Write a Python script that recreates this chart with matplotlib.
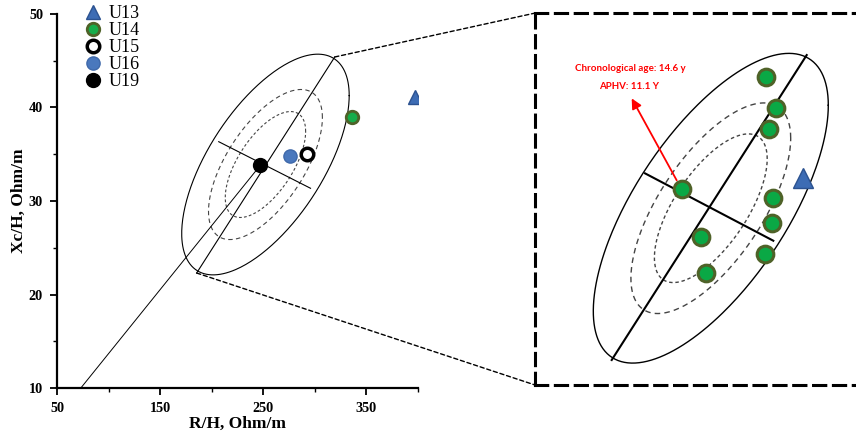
import matplotlib
matplotlib.use('Agg')
import matplotlib.pyplot as plt
from matplotlib.patches import ConnectionPatch
from matplotlib.ticker import MultipleLocator
import numpy as np

plt.rcParams['font.family'] = ['Liberation Serif', 'DejaVu Serif']

# --- left panel: RXc graph, group means ---
groups = ['U13', 'U14', 'U15', 'U16', 'U19']
rh_mean = [397, 336, 292, 276, 247]
xch_mean = [41.1, 39.0, 35.0, 34.85, 33.8]

# tolerance ellipse of the reference group
ell_center = (252.1, 33.9)
ell_sd = (81.2, 11.8)          # half extents along R/H and Xc/H
ell_rho = 0.625
ell_levels = [1.0, 0.68, 0.48]  # 95 %, 75 %, 50 %
major_r = [185.4, 319.3]
major_x = [22.3, 45.4]
minor_r = [206.8, 295.8]
minor_x = [36.34, 31.36]

# --- right panel: zoomed schematic, panel units ---
zoom_center = (175.8, 176.8)
zoom_sd = (117.5, 154.9)
zoom_rho = 0.665
zoom_major_u = [76.7, 271.7]
zoom_major_v = [25.0, 330.0]
zoom_minor_u = [110.0, 238.3]
zoom_minor_v = [211.7, 144.3]
zoom_u = [231, 240.7, 234.3, 146.7, 238.3, 236.7, 165.7, 230, 171]
zoom_v = [308.3, 276.7, 256, 195.7, 187.3, 162.3, 148.3, 131, 111.7]
tri_u, tri_v = 267.7, 206.7
note_lines = ['Chronological age: 14.6 y', 'APHV: 11.1 Y']


def ellipse_xy(c, sd, rho, s, n=300):
    t = np.linspace(0, 2 * np.pi, n)
    x = c[0] + s * sd[0] * np.cos(t)
    y = c[1] + s * sd[1] * (rho * np.cos(t) + np.sqrt(1 - rho ** 2) * np.sin(t))
    return x, y


def draw_ellipses(ax, c, sd, rho, lw_ell):
    styles = ['-', (0, (4, 3)), (0, (2.5, 2))]
    colors = ['black', '#444444', '#444444']
    for s, ls, col in zip(ell_levels, styles, colors):
        x, y = ellipse_xy(c, sd, rho, s)
        ax.plot(x, y, color=col, lw=lw_ell, ls=ls)


fig = plt.figure(figsize=(8.56, 4.36), dpi=100)
ax1 = fig.add_axes([0.0666, 0.110, 0.4217, 0.858])
ax2 = fig.add_axes([0.625, 0.117, 0.375, 0.853])

# left panel
draw_ellipses(ax1, ell_center, ell_sd, ell_rho, 0.8)
ax1.plot(major_r, major_x, color='black', lw=0.8)
ax1.plot(minor_r, minor_x, color='black', lw=0.8)
# vector from the origin to the U19 mean
ax1.plot([0, rh_mean[4]], [0, xch_mean[4]], color='black', lw=0.7)

marker_styles = {
    'U13': dict(marker='^', ms=10, mfc='#3d6cb4', mec='#2c5290', mew=1),
    'U14': dict(marker='o', ms=9, mfc='#16ad4a', mec='#4f6228', mew=2),
    'U15': dict(marker='o', ms=9, mfc='white', mec='black', mew=2.5),
    'U16': dict(marker='o', ms=9.5, mfc='#4a78bd', mec='#3f69aa', mew=1),
    'U19': dict(marker='o', ms=10, mfc='black', mec='black', mew=1),
}
for g, x, y in zip(groups, rh_mean, xch_mean):
    ax1.plot([x], [y], ls='none', label=g, **marker_styles[g])

ax1.set_xlim(50, 400)
ax1.set_ylim(10, 50)
ax1.xaxis.set_minor_locator(MultipleLocator(50))
ax1.yaxis.set_major_locator(MultipleLocator(10))
ax1.yaxis.set_minor_locator(MultipleLocator(5))
ax1.set_xticks([50, 150, 250, 350])
for side in ['top', 'right']:
    ax1.spines[side].set_visible(False)
for side in ['left', 'bottom']:
    ax1.spines[side].set_linewidth(1.6)
ax1.tick_params(which='major', length=5, width=1.3, pad=5)
ax1.tick_params(which='minor', length=3, width=1.0)
for lab in ax1.get_xticklabels() + ax1.get_yticklabels():
    lab.set_fontweight('bold')
    lab.set_fontsize(10.3)
ax1.set_xlabel('R/H, Ohm/m', fontsize=12.5, fontweight='bold', labelpad=1)
ax1.set_ylabel('Xc/H, Ohm/m', fontsize=12.5, fontweight='bold', labelpad=1.5)

ax1.legend(loc='upper left', bbox_to_anchor=(0.0735, 1.023), frameon=False,
           fontsize=13, handlelength=1.0, handletextpad=0.4,
           labelspacing=0.0, borderpad=0, borderaxespad=0, numpoints=1)

# right panel
draw_ellipses(ax2, zoom_center, zoom_sd, zoom_rho, 1.0)
ax2.plot(zoom_major_u, zoom_major_v, color='black', lw=1.5)
ax2.plot(zoom_minor_u, zoom_minor_v, color='black', lw=1.5)
ax2.plot(zoom_u, zoom_v, ls='none', marker='o', ms=12, mfc='#0aa845',
         mec='#4f6228', mew=2.2)
ax2.plot([tri_u], [tri_v], ls='none', marker='^', ms=14, mfc='#3d6cb4',
         mec='#2c5290', mew=1)
ax2.annotate('', xy=(96.7, 286.7), xytext=(zoom_u[3] - 5, zoom_v[3] + 9),
             arrowprops=dict(arrowstyle='-|>', color='red', lw=1.3,
                             mutation_scale=15, shrinkA=0, shrinkB=0))
ax2.text(95, 316.7, note_lines[0], color='red', fontsize=7, fontweight='bold',
         family=['Lato', 'DejaVu Sans'], ha='center', va='center')
ax2.text(94.3, 299, note_lines[1], color='red', fontsize=7, fontweight='bold',
         family=['Lato', 'DejaVu Sans'], ha='center', va='center')

ax2.set_xlim(0, 321)
ax2.set_ylim(0, 372)
ax2.set_xticks([])
ax2.set_yticks([])
ax2.spines['right'].set_visible(False)
for side in ['left', 'top', 'bottom']:
    ax2.spines[side].set_linewidth(2.2)
    ax2.spines[side].set_linestyle((0, (4, 2.5)))

# dotted connectors from the ellipse to the zoom box
for i, corner in [(1, (0, 1)), (0, (0, 0))]:
    con = ConnectionPatch(xyA=(major_r[i], major_x[i]), coordsA=ax1.transData,
                          xyB=corner, coordsB=ax2.transAxes, color='black',
                          lw=1.0, ls=(0, (3, 2)))
    fig.add_artist(con)

fig.savefig('out.png', dpi=100)
